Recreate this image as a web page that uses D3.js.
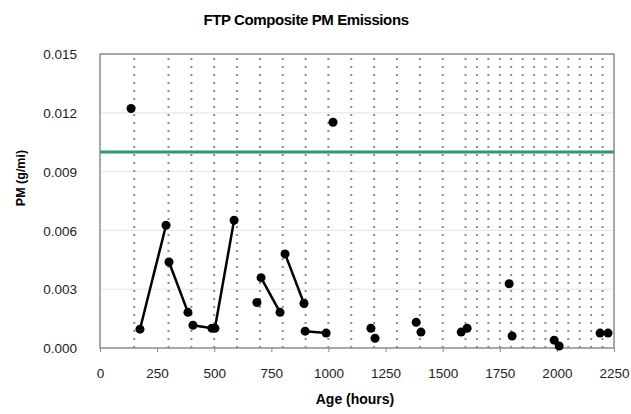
<!DOCTYPE html>
<html>
<head>
<meta charset="utf-8">
<script src="https://cdn.jsdelivr.net/npm/d3@7"></script>
<style>
body { margin: 0; background: #fff; }
svg { font-family: "Liberation Sans", Arial, sans-serif; }
.tick text { font-size: 13.5px; fill: #222; }
</style>
</head>
<body>
<div id="chart"></div>
<script>
// hours at which the dotted test-interval lines are drawn
var gridHours = [150, 300, 400, 500, 600, 700, 800, 900, 1000, 1100, 1200, 1300, 1400, 1500, 1600,
	1650, 1700, 1750, 1800, 1850, 1900, 1950, 2000, 2050, 2100, 2150, 2200]

var xTicks = [0, 250, 500, 750, 1000, 1250, 1500, 1750, 2000, 2250]
var yTicks = [0, 0.003, 0.006, 0.009, 0.012, 0.015]
var limitPM = 0.010

// connected pairs / runs of measurements [hours, g/mi]
var segments = [
	[[175, 0.00096], [289, 0.00626]],
	[[302, 0.00439], [385, 0.00182]],
	[[407, 0.00116], [490, 0.00101], [503, 0.00101], [587, 0.00652]],
	[[705, 0.00359], [788, 0.00182]],
	[[810, 0.00480], [893, 0.00227]],
	[[898, 0.00086], [990, 0.00076]]
]

// lone measurements
var singles = [
	[136, 0.01222], [1020, 0.01152], [687, 0.00232],
	[1186, 0.00101], [1204, 0.00050],
	[1384, 0.00131], [1405, 0.00081],
	[1581, 0.00081], [1607, 0.00101],
	[1791, 0.00328], [1804, 0.00061],
	[1988, 0.00040], [2010, 0.00010],
	[2189, 0.00076], [2224, 0.00076]
]

var W = 631, H = 414
var margin = {top: 54, right: 17, bottom: 66, left: 100}
var width = W - margin.left - margin.right,
    height = H - margin.top - margin.bottom

var svg = d3.select("#chart").append("svg")
	.attr("width", W)
	.attr("height", H)

var g = svg.append("g")
	.attr("transform", "translate(" + margin.left + "," + margin.top + ")")

var x = d3.scaleLinear().domain([0, 2250]).range([0, width])
var y = d3.scaleLinear().domain([0, 0.015]).range([height, 0])

// faint horizontal gridlines
g.selectAll(".hgrid")
	.data(yTicks.slice(1, -1))
	.enter().append("line")
	.attr("x1", 0).attr("x2", width)
	.attr("y1", function(d){ return y(d) })
	.attr("y2", function(d){ return y(d) })
	.attr("stroke", "#e4e4e4")
	.attr("stroke-width", 1)

// dotted vertical lines
g.selectAll(".vgrid")
	.data(gridHours)
	.enter().append("line")
	.attr("x1", function(d){ return x(d) })
	.attr("x2", function(d){ return x(d) })
	.attr("y1", 4).attr("y2", height)
	.attr("stroke", "#8a8a8a")
	.attr("stroke-width", 2)
	.attr("stroke-dasharray", "2,6")

// axes
var xAxis = g.append("g")
	.attr("transform", "translate(0," + height + ")")
	.call(d3.axisBottom(x).tickValues(xTicks).tickSize(4).tickPadding(16).tickFormat(d3.format("d")))
xAxis.select(".domain").remove()
xAxis.selectAll(".tick line").attr("stroke", "#888")

var yAxis = g.append("g")
	.call(d3.axisLeft(y).tickValues(yTicks).tickSize(0).tickPadding(23).tickFormat(d3.format(".3f")))
yAxis.select(".domain").remove()
yAxis.selectAll(".tick text").attr("dy", "0.35em")

// plot frame
g.append("rect")
	.attr("x", 0).attr("y", 0)
	.attr("width", width).attr("height", height)
	.attr("fill", "none")
	.attr("stroke", "#8c8c8c")
	.attr("stroke-width", 1.5)

// limit line
g.append("line")
	.attr("x1", 0).attr("x2", width)
	.attr("y1", y(limitPM)).attr("y2", y(limitPM))
	.attr("stroke", "#2e9a6c")
	.attr("stroke-width", 3)

var line = d3.line()
	.x(function(d){ return x(d[0]) })
	.y(function(d){ return y(d[1]) })

g.selectAll(".seg")
	.data(segments)
	.enter().append("path")
	.attr("d", line)
	.attr("fill", "none")
	.attr("stroke", "#000")
	.attr("stroke-width", 2.5)

var allPts = singles.concat(d3.merge(segments))
g.selectAll(".pt")
	.data(allPts)
	.enter().append("circle")
	.attr("cx", function(d){ return x(d[0]) })
	.attr("cy", function(d){ return y(d[1]) })
	.attr("r", 4.5)
	.attr("fill", "#000")

// titles
svg.append("text")
	.attr("x", 306).attr("y", 25)
	.attr("text-anchor", "middle")
	.attr("font-size", 15)
	.attr("font-weight", "bold")
	.attr("letter-spacing", -0.4)
	.text("FTP Composite PM Emissions")

svg.append("text")
	.attr("x", 355).attr("y", 404)
	.attr("text-anchor", "middle")
	.attr("font-size", 14)
	.attr("font-weight", "bold")
	.text("Age (hours)")

svg.append("text")
	.attr("transform", "translate(25,178) rotate(-90)")
	.attr("text-anchor", "middle")
	.attr("font-size", 12.5)
	.attr("font-weight", "bold")
	.text("PM (g/mi)")
</script>
</body>
</html>
